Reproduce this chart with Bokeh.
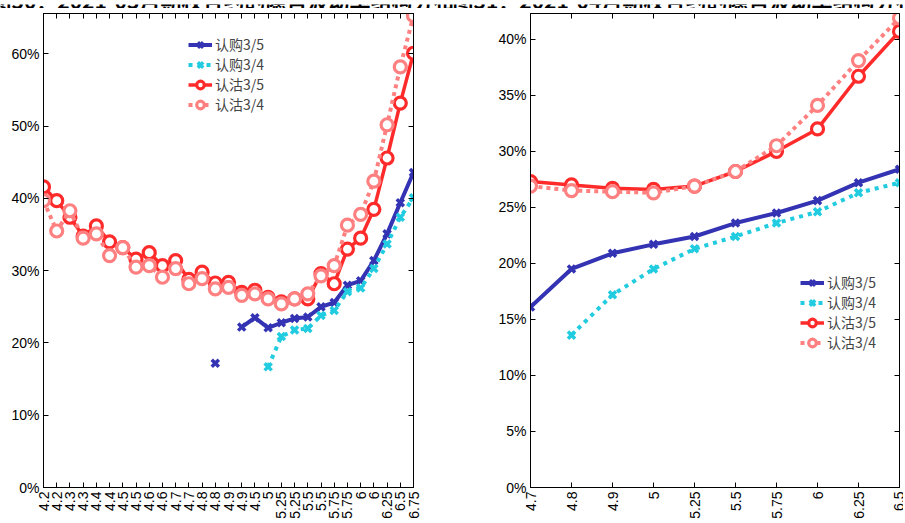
import math
import numpy as np
from bokeh.plotting import figure
from bokeh.layouts import row, column
from bokeh.models import Range1d, FixedTicker, LinearAxis, Legend, LegendItem, Label
from bokeh.embed import file_html
from bokeh.resources import INLINE

NaN = float("nan")

# ---------------- titles (cut off at the top in the reference) ----------------
left_title = "图30：2021-03月期权合约的隐含波动率结构分布"
right_title = "图31：2021-04月期权合约的隐含波动率结构分布"

# ---------------- left panel data (implied volatility, %) ----------------
left_labels = ["4.2", "4.2", "4.3", "4.3", "4.4", "4.4", "4.5", "4.5", "4.6", "4.6",
               "4.7", "4.7", "4.8", "4.8", "4.9", "4.9", "4.5", "5", "5.25", "5.25",
               "5.5", "5.5", "5.75", "5.75", "6", "6", "6.25", "6.5", "6.75"]
left_call_35 = [NaN, NaN, NaN, NaN, NaN, NaN, NaN, NaN, NaN, NaN,
                NaN, NaN, NaN, 17.2, NaN, 22.2, 23.5, 22.1, 22.8, 23.4,
                23.6, 25.0, 25.6, 28.0, 28.6, 31.4, 35.1, 39.4, 43.6]
left_call_34 = [NaN, NaN, NaN, NaN, NaN, NaN, NaN, NaN, NaN, NaN,
                NaN, NaN, NaN, NaN, NaN, NaN, NaN, 16.7, 20.9, 21.8,
                22.0, 23.8, 24.5, 27.1, 27.6, 30.3, 33.7, 37.4, 40.1]
left_put_35 = [41.6, 39.7, 37.4, 34.8, 36.2, 34.0, 33.2, 31.6, 32.5, 30.7,
               31.4, 28.8, 29.8, 28.3, 28.4, 27.0, 27.3, 26.3, 25.7, 26.1,
               26.1, 29.6, 28.2, 33.0, 34.5, 38.5, 45.6, 53.2, 60.1]
left_put_34 = [39.7, 35.5, 38.3, 34.5, 35.1, 32.1, 33.2, 30.5, 30.7, 29.1,
               30.3, 28.2, 28.9, 27.5, 27.7, 26.6, 26.8, 26.1, 25.4, 26.1,
               26.8, 29.3, 30.7, 36.3, 37.8, 42.4, 50.2, 58.2, 65.3]
left_yticks = [0, 10, 20, 30, 40, 50, 60]

# ---------------- right panel data (implied volatility, %) ----------------
right_labels = ["4.7", "4.8", "4.9", "5", "5.25", "5.5", "5.75", "6", "6.25", "6.5"]
right_call_35 = [16.1, 19.5, 20.9, 21.7, 22.4, 23.6, 24.5, 25.6, 27.2, 28.4]
right_call_34 = [NaN, 13.6, 17.2, 19.5, 21.3, 22.4, 23.6, 24.6, 26.3, 27.2]
right_put_35 = [27.3, 27.0, 26.7, 26.6, 26.9, 28.2, 30.0, 32.0, 36.7, 40.7]
right_put_34 = [26.9, 26.5, 26.4, 26.3, 26.9, 28.2, 30.5, 34.1, 38.1, 41.9]
right_yticks = [0, 5, 10, 15, 20, 25, 30, 35, 40]

series_names = ["认购3/5", "认购3/4", "认沽3/5", "认沽3/4"]

BLUE = "#3333b3"
CYAN = "#22cce0"
RED = "#ff2b2b"
PINK = "#ff8080"
TICK_FONT = "Liberation Sans"
CJK_FONT = "Noto Sans CJK SC"
STRIP = 8          # height of the strip holding the (cut) titles
HEIGHT = 513       # height of each chart panel


def make_panel(labels, call35, call34, put35, put34, yticks, ymax,
               width, border_left, border_right, legend_loc):
    n = len(labels)
    xs = list(range(n))
    p = figure(width=width, height=HEIGHT, output_backend="svg", toolbar_location=None,
               x_range=Range1d(0, n - 1), y_range=Range1d(0, ymax),
               min_border_left=border_left, min_border_right=border_right,
               min_border_top=13 - STRIP, min_border_bottom=HEIGHT - (490 - STRIP))
    p.grid.visible = False
    p.outline_line_color = "black"
    p.outline_line_width = 1
    p.background_fill_color = "white"
    p.border_fill_color = "white"

    # bottom axis
    xa = p.xaxis[0]
    xa.ticker = FixedTicker(ticks=xs)
    xa.major_label_overrides = {i: lab for i, lab in enumerate(labels)}
    xa.major_label_orientation = math.pi / 2
    # left axis
    ya = p.yaxis[0]
    ya.ticker = FixedTicker(ticks=yticks)
    ya.major_label_overrides = {t: f"{t}%" for t in yticks}
    for ax in (xa, ya):
        ax.major_tick_in = 5
        ax.major_tick_out = 0
        ax.minor_tick_line_color = None
        ax.axis_line_color = "black"
        ax.major_tick_line_color = "black"
        ax.major_label_text_font = TICK_FONT
        ax.major_label_text_font_size = "14px"
        ax.major_label_text_color = "black"
        ax.major_label_standoff = 4

    # mirrored ticks on top and right (no labels)
    top = LinearAxis(ticker=FixedTicker(ticks=xs))
    right = LinearAxis(ticker=FixedTicker(ticks=yticks))
    for ax in (top, right):
        ax.major_tick_in = 5
        ax.major_tick_out = 0
        ax.minor_tick_line_color = None
        ax.major_label_text_font_size = "1px"
        ax.major_label_text_color = None
        ax.major_label_standoff = 0
        ax.axis_line_color = "black"
        ax.major_tick_line_color = "black"
    p.add_layout(top, "above")
    p.add_layout(right, "right")

    r1 = p.line(xs, call35, line_color=BLUE, line_width=4)
    m1 = p.scatter(xs, call35, marker="x", size=10, line_color=BLUE, line_width=3.5)
    r2 = p.line(xs, call34, line_color=CYAN, line_width=4, line_dash="4 5")
    m2 = p.scatter(xs, call34, marker="x", size=10, line_color=CYAN, line_width=3.5)
    r3 = p.line(xs, put35, line_color=RED, line_width=3.5)
    m3 = p.scatter(xs, put35, marker="circle", size=12, line_color=RED,
                   line_width=3.2, fill_color="white")
    r4 = p.line(xs, put34, line_color=PINK, line_width=4, line_dash="4 4")
    m4 = p.scatter(xs, put34, marker="circle", size=12, line_color=PINK,
                   line_width=3.2, fill_color="white")

    items = [LegendItem(label=series_names[0], renderers=[r1, m1]),
             LegendItem(label=series_names[1], renderers=[r2, m2]),
             LegendItem(label=series_names[2], renderers=[r3, m3]),
             LegendItem(label=series_names[3], renderers=[r4, m4])]
    legend = Legend(items=items, location=legend_loc,
                    border_line_alpha=0, background_fill_alpha=0,
                    label_text_font=CJK_FONT, label_text_font_size="14px",
                    glyph_width=24, glyph_height=19, label_height=19,
                    spacing=0, padding=2, margin=0, label_standoff=3)
    p.add_layout(legend)
    return p


# thin strip that shows only the lower part of the two titles, as in the reference
strip = figure(width=903, height=STRIP, output_backend="svg", toolbar_location=None,
               x_range=Range1d(0, 1), y_range=Range1d(0, 1),
               x_axis_location=None, y_axis_location=None, min_border=0)
strip.grid.visible = False
strip.outline_line_color = None
for txt, x0 in ((left_title, -10), (right_title, 452)):
    strip.add_layout(Label(x=x0, y=-2, x_units="screen", y_units="screen",
                           text=txt, text_align="left", text_baseline="bottom",
                           text_font=CJK_FONT, text_font_style="bold",
                           text_font_size="21px", text_color="black"))

p1 = make_panel(left_labels, left_call_35, left_call_34, left_put_35, left_put_34,
                left_yticks, 65.6, 458, 43, 45, (143, 371))
p2 = make_panel(right_labels, right_call_35, right_call_34, right_put_35, right_put_34,
                right_yticks, 42.3, 445, 72, 4, (268, 133))

layout = column(strip, row(p1, p2), spacing=0)
open("out.html", "w").write(file_html(layout, INLINE))
